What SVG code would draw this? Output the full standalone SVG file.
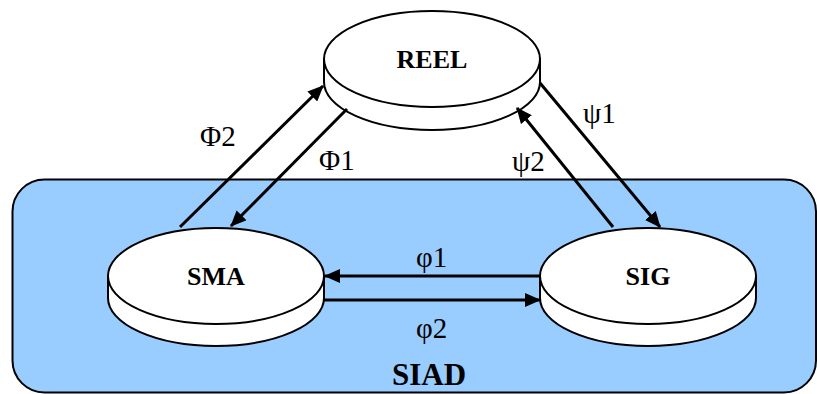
<svg xmlns="http://www.w3.org/2000/svg" width="817" height="394" viewBox="0 0 817 394">
<style>
.node path, .node ellipse { fill:#ffffff; stroke:#000000; stroke-width:2; }
.nlabel { font-family:"Liberation Serif","Times New Roman",serif; font-weight:bold; font-size:26px; text-anchor:middle; fill:#000; }
.elabel { font-family:"Liberation Serif","Times New Roman",serif; font-size:29px; fill:#000; }
.conn line { stroke:#000; stroke-width:3; marker-end:url(#ah); }
</style>
<defs>
<marker id="ah" viewBox="0 0 16 14" refX="15" refY="7" markerWidth="16" markerHeight="14" markerUnits="userSpaceOnUse" orient="auto">
<path d="M0,0 L16,7 L0,14 Z" fill="#000"/>
</marker>
</defs>
<g id="SIAD">
<rect x="12.5" y="179.5" width="803.5" height="213" rx="32" ry="32" fill="#99ccff" stroke="#000" stroke-width="2"/>
<text x="429" y="385" font-family="Liberation Serif, Times New Roman, serif" font-weight="bold" font-size="31" text-anchor="middle">SIAD</text>
</g>
<g id="REEL" class="node">
<path d="M324,59 L324,82 A108,48 0 0 0 540,82 L540,59 Z"/>
<ellipse cx="432" cy="59" rx="108" ry="48"/>
<text class="nlabel" x="432" y="68">REEL</text>
</g>
<g id="SMA" class="node">
<path d="M108,276 L108,298 A108,48 0 0 0 324,298 L324,276 Z"/>
<ellipse cx="216" cy="276" rx="108" ry="48"/>
<text class="nlabel" x="216" y="285">SMA</text>
</g>
<g id="SIG" class="node">
<path d="M540,276 L540,298 A108,48 0 0 0 756,298 L756,276 Z"/>
<ellipse cx="648" cy="276" rx="108" ry="48"/>
<text class="nlabel" x="648" y="285">SIG</text>
</g>
<g id="connectors" class="conn">
<line x1="347" y1="109" x2="231" y2="226"/>
<line x1="180" y1="227" x2="323" y2="86"/>
<line x1="540" y1="83" x2="660" y2="227"/>
<line x1="613" y1="227" x2="517" y2="108"/>
<line x1="540" y1="276" x2="325" y2="276"/>
<line x1="324" y1="300" x2="540" y2="300"/>
</g>
<g id="labels">
<text class="elabel" x="200" y="146">Φ2</text>
<text class="elabel" x="319" y="170">Φ1</text>
<text class="elabel" x="583" y="123">ψ1</text>
<text class="elabel" x="512" y="171">ψ2</text>
<text class="elabel" x="416" y="267">φ1</text>
<text class="elabel" x="416" y="338">φ2</text>
</g>
</svg>
